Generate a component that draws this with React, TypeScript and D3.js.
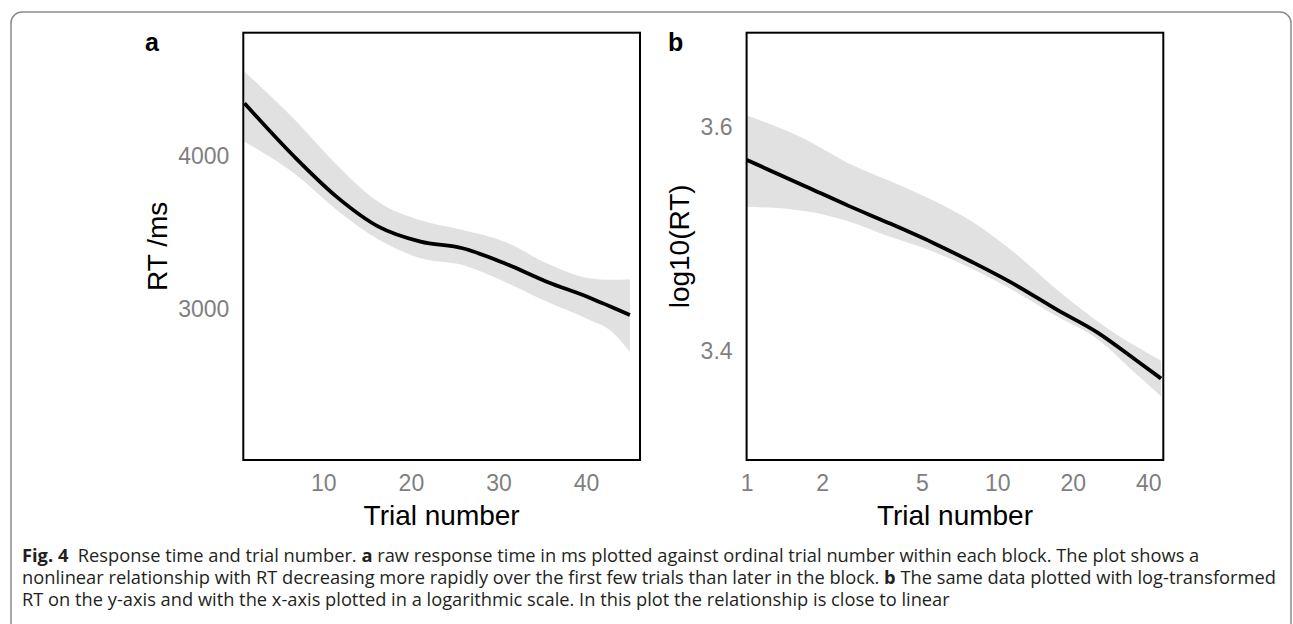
import React, { useEffect, useRef } from 'react';
import * as d3 from 'd3';

// panel a: raw RT (ms) against trial number, smooth fit with ribbon
const trialA = [1, 6.7, 11.5, 16.3, 21.1, 25.9, 30.7, 35.5, 40.4, 42.7, 45];
const fitA = [4344, 3995, 3735, 3539, 3441, 3398, 3300, 3180, 3076, 3020, 2963];
const upperA = [4550, 4240, 3945, 3700, 3580, 3517, 3441, 3300, 3202, 3192, 3196];
const lowerA = [4093, 3885, 3650, 3455, 3333, 3289, 3180, 3050, 2930, 2865, 2723];
const xTicksA = [10, 20, 30, 40];
const yTicksA = [3000, 4000];

// panel b: log10(RT) against trial number on a log axis
const trialB = [1, 1.73, 2.54, 3.73, 5.5, 8, 11.8, 17.2, 25.2, 35, 45];
const fitB = [3.571, 3.547, 3.53, 3.514, 3.497, 3.479, 3.459, 3.437, 3.416, 3.393, 3.375];
const upperB = [3.611, 3.589, 3.568, 3.552, 3.535, 3.515, 3.487, 3.455, 3.426, 3.405, 3.391];
const lowerB = [3.529, 3.525, 3.516, 3.502, 3.489, 3.473, 3.453, 3.431, 3.41, 3.381, 3.359];
const xTicksB = [1, 2, 5, 10, 20, 40];
const yTicksB = [3.4, 3.6];

const captionLines: [string, boolean][][] = [
  [
    ['Fig. 4', true],
    ['\u00a0\u00a0Response time and trial number. ', false],
    ['a', true],
    [' raw response time in ms plotted against ordinal trial number within each block. The plot shows a', false],
  ],
  [
    ['nonlinear relationship with RT decreasing more rapidly over the first few trials than later in the block. ', false],
    ['b', true],
    [' The same data plotted with log-transformed', false],
  ],
  [['RT on the y-axis and with the x-axis plotted in a logarithmic scale. In this plot the relationship is close to linear', false]],
];
// measured widths of the first two caption lines, used to fit the font width
const captionTargets = [1180, 1251];

const W = 1293;
const H = 624;
const chartFont = '"Liberation Sans", Arial, sans-serif';
const captionFont = '"Open Sans", Lato, sans-serif';

function drawPanel(svg: any, o: any) {
  const g = svg.append('g');
  const { x, y, xs, fit, upper, lower } = o;

  const area = d3.area<number>()
    .x((d, i) => x(xs[i]))
    .y0((d, i) => y(lower[i]))
    .y1((d, i) => y(upper[i]))
    .curve(d3.curveMonotoneX);

  const line = d3.line<number>()
    .x((d, i) => x(xs[i]))
    .y((d) => y(d))
    .curve(d3.curveMonotoneX);

  g.append('path').datum(xs).attr('d', area as any).attr('fill', '#e1e1e1');
  g.append('path').datum(fit).attr('d', line as any)
    .attr('fill', 'none').attr('stroke', '#000').attr('stroke-width', 3.8);

  const [x0, x1] = x.range();
  const [y0, y1] = y.range();
  g.append('rect')
    .attr('x', x0).attr('y', y1)
    .attr('width', x1 - x0).attr('height', y0 - y1)
    .attr('fill', 'none').attr('stroke', '#000').attr('stroke-width', 2);

  // axes: labels only, no ticks or domain line
  const yAxis = g.append('g')
    .attr('transform', `translate(${x0},0)`)
    .call(d3.axisLeft(y).tickValues(o.yTicks).tickSize(0).tickPadding(14).tickFormat(o.yFormat));
  const xAxis = g.append('g')
    .attr('transform', `translate(0,${y0})`)
    .call(d3.axisBottom(x).tickValues(o.xTicks).tickSize(0).tickPadding(15).tickFormat(d3.format('d')));

  [yAxis, xAxis].forEach((a) => {
    a.select('.domain').remove();
    a.attr('font-family', chartFont).attr('font-size', 23);
    a.selectAll('text').attr('fill', '#7f7f7f');
  });

  g.append('text')
    .attr('x', (x0 + x1) / 2).attr('y', 525)
    .attr('text-anchor', 'middle')
    .attr('font-family', chartFont).attr('font-size', 28).attr('fill', '#000')
    .text('Trial number');

  g.append('text')
    .attr('transform', `translate(${o.yTitleX},${(y0 + y1) / 2}) rotate(-90)`)
    .attr('text-anchor', 'middle')
    .attr('font-family', chartFont).attr('font-size', 28).attr('fill', '#000')
    .text(o.yTitle);

  g.append('text')
    .attr('x', o.tagX).attr('y', 51)
    .attr('font-family', chartFont).attr('font-size', 25).attr('font-weight', 'bold')
    .text(o.tag);
}

export default function App() {
  const svgRef = useRef<SVGSVGElement>(null);

  useEffect(() => {
    if (!svgRef.current) return;
    const svg = d3.select(svgRef.current);
    svg.selectAll('*').remove();

    // outer frame
    svg.append('rect')
      .attr('x', 11).attr('y', 12).attr('width', 1280).attr('height', 700).attr('rx', 11)
      .attr('fill', 'none').attr('stroke', '#8a8a8a').attr('stroke-width', 1.5);

    const top = 32.7;
    const bottom = 460;

    drawPanel(svg, {
      x: d3.scaleLinear().domain([0.87, 46.15]).range([243.3, 640]),
      y: d3.scaleLinear().domain([2017, 4804]).range([bottom, top]),
      xs: trialA, fit: fitA, upper: upperA, lower: lowerA,
      xTicks: xTicksA, yTicks: yTicksA, yFormat: d3.format('d'),
      yTitle: 'RT /ms', yTitleX: 167, tag: 'a', tagX: 145,
    });

    drawPanel(svg, {
      x: d3.scaleLog().domain([1, 45.9]).range([746.6, 1163.3]),
      y: d3.scaleLinear().domain([3.302, 3.685]).range([bottom, top]),
      xs: trialB, fit: fitB, upper: upperB, lower: lowerB,
      xTicks: xTicksB, yTicks: yTicksB, yFormat: d3.format('.1f'),
      yTitle: 'log10(RT)', yTitleX: 689, tag: 'b', tagX: 668,
    });

    const cap = svg.append('g')
      .attr('font-family', captionFont).attr('font-size', 17.5).attr('fill', '#231f20');
    const texts = captionLines.map((segs, i) => {
      const t = cap.append('text').attr('x', 22).attr('y', 562 + i * 22);
      segs.forEach(([s, bold]) => {
        t.append('tspan').attr('font-weight', bold ? 'bold' : 'normal').text(s);
      });
      return t;
    });
    // squeeze/stretch glyphs so the caption spans the same width as the original
    const natural = texts.map((t) => (t.node() as SVGTextElement).getComputedTextLength());
    const k = d3.mean(captionTargets, (w, i) => w / natural[i]) || 1;
    texts.forEach((t, i) => {
      t.attr('textLength', natural[i] * k).attr('lengthAdjust', 'spacingAndGlyphs');
    });
  }, []);

  return (
    <svg
      ref={svgRef}
      width={W}
      height={H}
      viewBox={`0 0 ${W} ${H}`}
      style={{ position: 'absolute', left: 0, top: 0, display: 'block', background: '#fff' }}
    />
  );
}
